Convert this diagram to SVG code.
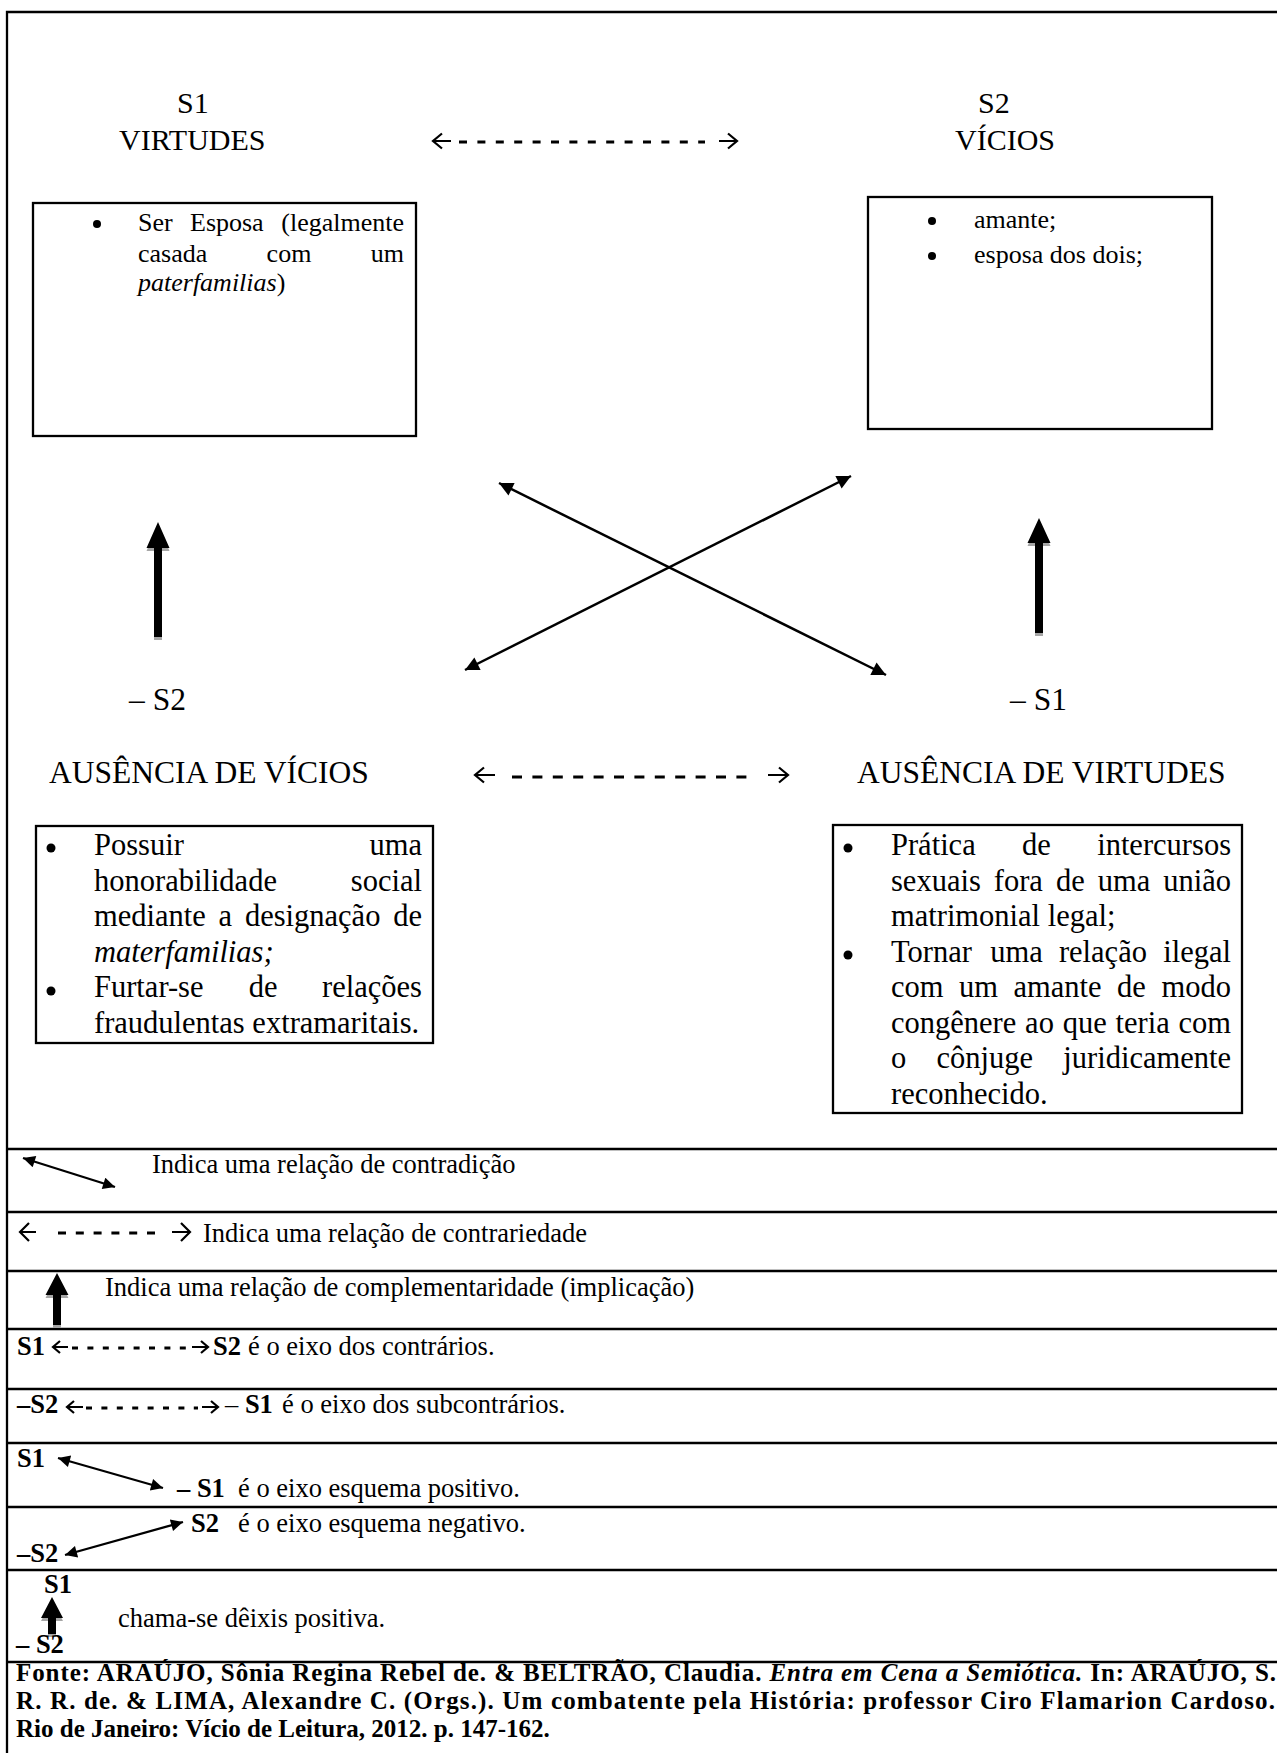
<svg xmlns="http://www.w3.org/2000/svg" width="1277" height="1753" viewBox="0 0 1277 1753">
<style>
.t{font-family:"Liberation Serif","Times New Roman",serif;fill:#000}
.m{font-size:30px}
.l{font-size:31.5px}
.s{font-size:26px}
.p{font-size:30.5px}
.g{font-size:26.5px}
.f{font-size:25px;font-weight:bold}
.b{font-weight:bold}
.i{font-style:italic}
.e{text-anchor:end}
.box{fill:none;stroke:#000;stroke-width:2.3}
.rule{stroke:#000;stroke-width:2.3;fill:none}
.xl{stroke:#000;stroke-width:2.5;fill:none;marker-start:url(#tri);marker-end:url(#tri)}
.xs{stroke:#000;stroke-width:2.3;fill:none;marker-start:url(#tris);marker-end:url(#tris)}
.chev{stroke:#000;stroke-width:2.2;fill:none;stroke-linejoin:miter}
.dash{stroke:#000;stroke-width:3;fill:none}
.sh{fill:#a6a6a6}
</style>
<defs>
<marker id="tri" viewBox="0 0 10 10" refX="10" refY="5" markerWidth="19" markerHeight="14" markerUnits="userSpaceOnUse" orient="auto-start-reverse"><path d="M0,0 L10,5 L0,10 z" fill="#000"/></marker>
<marker id="tris" viewBox="0 0 10 10" refX="10" refY="5" markerWidth="16" markerHeight="12" markerUnits="userSpaceOnUse" orient="auto-start-reverse"><path d="M0,0 L10,5 L0,10 z" fill="#000"/></marker>
</defs>
<rect width="1277" height="1753" fill="#fff"/>
<g id="frame">
<path class="rule" d="M7,1753 V12 H1280"/>
<path class="rule" d="M7,1149 H1280 M7,1212 H1280 M7,1271 H1280 M7,1329 H1280 M7,1389 H1280 M7,1443 H1280 M7,1507 H1280 M7,1570 H1280 M7,1662 H1280"/>
</g>
<g id="node-s1">
<text class="t m" x="177" y="113">S1</text>
<text class="t m" x="119" y="150">VIRTUDES</text>
<rect class="box" x="33" y="203" width="383" height="233"/>
<circle cx="97" cy="224" r="4"/>
<text class="t s" y="231"><tspan x="138">Ser</tspan><tspan x="190">Esposa</tspan><tspan x="404" class="e">(legalmente</tspan></text>
<text class="t s" y="261.5"><tspan x="138">casada</tspan><tspan x="266.6">com</tspan><tspan x="404" class="e">um</tspan></text>
<text class="t s" x="138" y="291"><tspan class="i">paterfamilias</tspan>)</text>
</g>
<g id="node-s2">
<text class="t m" x="978" y="113">S2</text>
<text class="t m" x="955" y="150">VÍCIOS</text>
<rect class="box" x="868" y="197" width="344" height="232"/>
<circle cx="932" cy="221" r="4"/>
<text class="t s" x="974" y="228">amante;</text>
<circle cx="932" cy="256" r="4"/>
<text class="t s" x="974" y="263">esposa dos dois;</text>
</g>
<g id="node-nons2">
<text class="t l" x="129" y="710">– S2</text>
<text class="t l" x="49" y="783">AUSÊNCIA DE VÍCIOS</text>
<rect class="box" x="36" y="826" width="397" height="217"/>
<circle cx="51" cy="848" r="4.5"/>
<text class="t p" y="855"><tspan x="94">Possuir</tspan><tspan x="422" class="e">uma</tspan></text>
<text class="t p" y="890.6"><tspan x="94">honorabilidade</tspan><tspan x="422" class="e">social</tspan></text>
<text class="t p" y="926.2"><tspan x="94">mediante</tspan><tspan x="218.6">a</tspan><tspan x="244.9">designação</tspan><tspan x="422" class="e">de</tspan></text>
<text class="t p i" x="94" y="961.8">materfamilias;</text>
<circle cx="51" cy="991" r="4.5"/>
<text class="t p" y="997.4"><tspan x="94">Furtar-se</tspan><tspan x="248.7">de</tspan><tspan x="422" class="e">relações</tspan></text>
<text class="t p" x="94" y="1033">fraudulentas extramaritais.</text>
</g>
<g id="node-nons1">
<text class="t l" x="1010" y="710">– S1</text>
<text class="t l" x="857" y="783">AUSÊNCIA DE VIRTUDES</text>
<rect class="box" x="833" y="825" width="409" height="288"/>
<circle cx="848" cy="848" r="4.5"/>
<text class="t p" y="855"><tspan x="891">Prática</tspan><tspan x="1022">de</tspan><tspan x="1231" class="e">intercursos</tspan></text>
<text class="t p" y="890.5"><tspan x="891">sexuais</tspan><tspan x="993.8">fora</tspan><tspan x="1055.9">de</tspan><tspan x="1097.7">uma</tspan><tspan x="1231" class="e">união</tspan></text>
<text class="t p" x="891" y="926">matrimonial legal;</text>
<circle cx="848" cy="955" r="4.5"/>
<text class="t p" y="961.5"><tspan x="891">Tornar</tspan><tspan x="990.2">uma</tspan><tspan x="1058.9">relação</tspan><tspan x="1231" class="e">ilegal</tspan></text>
<text class="t p" y="997"><tspan x="891">com</tspan><tspan x="959">um</tspan><tspan x="1013.5">amante</tspan><tspan x="1117.1">de</tspan><tspan x="1231" class="e">modo</tspan></text>
<text class="t p" y="1032.5"><tspan x="891">congênere</tspan><tspan x="1025.1">ao</tspan><tspan x="1062.7">que</tspan><tspan x="1115.5">teria</tspan><tspan x="1231" class="e">com</tspan></text>
<text class="t p" y="1068"><tspan x="891">o</tspan><tspan x="936.5">cônjuge</tspan><tspan x="1231" class="e">juridicamente</tspan></text>
<text class="t p" x="891" y="1103.5">reconhecido.</text>
</g>
<g id="connectors">
<path class="chev" d="M451,141 H433 M442,133.5 L433,141 L442,148.5"/>
<line class="dash" x1="459" y1="142" x2="705" y2="142" stroke-dasharray="8 10.4"/>
<path class="chev" d="M719,141 H737 M728,133.5 L737,141 L728,148.5"/>
<path class="chev" d="M495,775 H475 M484,767.5 L475,775 L484,782.5"/>
<line class="dash" x1="512" y1="777" x2="755" y2="777" stroke-dasharray="10 10.4"/>
<path class="chev" d="M768,775 H788 M779,767.5 L788,775 L779,782.5"/>
<line class="xl" x1="499" y1="483" x2="886" y2="675"/>
<line class="xl" x1="851" y1="476" x2="465" y2="670"/>
<g id="imp-left">
<path class="sh" d="M146.5,551 L158,525 L169.5,551 Z M154,550 H162 V640 H154 Z"/>
<path d="M146.5,548 L158,522 L169.5,548 Z M154,547 H162 V637 H154 Z"/>
</g>
<g id="imp-right">
<path class="sh" d="M1027.5,546 L1039,521 L1050.5,546 Z M1035,545 H1043 V636 H1035 Z"/>
<path d="M1027.5,543 L1039,518 L1050.5,543 Z M1035,542 H1043 V633 H1035 Z"/>
</g>
</g>
<g id="legend">
<g id="row-contradicao">
<line class="xs" x1="23" y1="1158" x2="115" y2="1187"/>
<text class="t g" x="152" y="1173">Indica uma relação de contradição</text>
</g>
<g id="row-contrariedade">
<path class="chev" d="M36,1232 H20 M29,1223 L20,1232 L29,1241"/>
<line class="dash" x1="58" y1="1233" x2="155" y2="1233" stroke-dasharray="8 9.8"/>
<path class="chev" d="M172,1232 H190 M181,1223 L190,1232 L181,1241"/>
<text class="t g" x="203" y="1242">Indica uma relação de contrariedade</text>
</g>
<g id="row-complementaridade">
<path class="sh" d="M45.5,1298 L57,1276 L68.5,1298 Z M53,1297 H61 V1328 H53 Z"/>
<path d="M45.5,1295 L57,1273 L68.5,1295 Z M53,1294 H61 V1325 H53 Z"/>
<text class="t g" x="105" y="1296">Indica uma relação de complementaridade (implicação)</text>
</g>
<g id="row-contrarios">
<text class="t g" y="1355"><tspan x="17" class="b">S1</tspan><tspan x="213" class="b">S2</tspan><tspan x="248">é o eixo dos contrários.</tspan></text>
<path class="chev" d="M68,1347 H53 M60,1341 L53,1347 L60,1353"/>
<line class="dash" x1="72" y1="1348" x2="186" y2="1348" stroke-width="2.6" stroke-dasharray="6 9.4"/>
<path class="chev" d="M192,1347 H208 M201,1341 L208,1347 L201,1353"/>
</g>
<g id="row-subcontrarios">
<text class="t g" y="1413"><tspan x="17" class="b">–S2</tspan><tspan x="225">– </tspan><tspan class="b">S1</tspan><tspan x="282">é o eixo dos subcontrários.</tspan></text>
<path class="chev" d="M83,1407 H67 M74,1401 L67,1407 L74,1413"/>
<line class="dash" x1="86" y1="1408" x2="198" y2="1408" stroke-width="2.6" stroke-dasharray="6 9.4"/>
<path class="chev" d="M202,1407 H218 M211,1401 L218,1407 L211,1413"/>
</g>
<g id="row-positivo">
<text class="t g b" x="17" y="1467">S1</text>
<line class="xs" x1="58" y1="1458" x2="163" y2="1488"/>
<text class="t g" y="1497"><tspan x="177" class="b">– S1</tspan><tspan x="238">é o eixo esquema positivo.</tspan></text>
</g>
<g id="row-negativo">
<line class="xs" x1="65" y1="1555" x2="183" y2="1522"/>
<text class="t g" y="1532"><tspan x="191" class="b">S2</tspan><tspan x="238">é o eixo esquema negativo.</tspan></text>
<text class="t g b" x="17" y="1562">–S2</text>
</g>
<g id="row-deixis">
<text class="t g b" x="44" y="1593">S1</text>
<path class="sh" d="M41,1621 L52,1600 L63,1621 Z M48,1620 H56 V1637 H48 Z"/>
<path d="M41,1618 L52,1597 L63,1618 Z M48,1617 H56 V1634 H48 Z"/>
<text class="t g" x="118" y="1627">chama-se dêixis positiva.</text>
<text class="t g b" x="16" y="1653">– S2</text>
</g>
<g id="row-fonte">
<text class="t f" x="16" y="1681" textLength="1260" lengthAdjust="spacing">Fonte: ARAÚJO, Sônia Regina Rebel de. &amp; BELTRÃO, Claudia. <tspan class="i">Entra em Cena a Semiótica.</tspan> In: ARAÚJO, S.</text>
<text class="t f" x="16" y="1709" textLength="1259" lengthAdjust="spacing">R. R. de. &amp; LIMA, Alexandre C. (Orgs.). Um combatente pela História: professor Ciro Flamarion Cardoso.</text>
<text class="t f" x="16" y="1737">Rio de Janeiro: Vício de Leitura, 2012. p. 147-162.</text>
</g>
</g>
</svg>
